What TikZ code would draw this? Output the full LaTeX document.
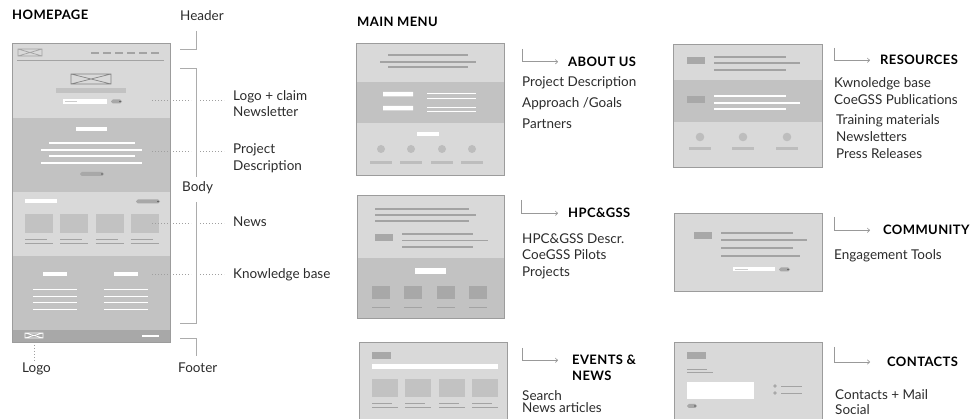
\documentclass[tikz,border=0pt]{standalone}
\usepackage{fontspec}
\setmainfont{Lato}
\usetikzlibrary{arrows.meta}

\definecolor{wfLight}{HTML}{D9D9D9}
\definecolor{wfMid}{HTML}{C2C2C2}
\definecolor{wfDark}{HTML}{A8A8A8}
\definecolor{wfEdge}{HTML}{9C9C9C}
\definecolor{wfLine}{HTML}{A3A3A3}
\definecolor{wfDot}{HTML}{BDBDBD}
\definecolor{ink}{HTML}{2B2B2B}

\tikzset{
  lbl/.style={anchor=base west,inner sep=0pt,text=ink,font=\fontsize{13.5}{16}\selectfont},
  ttl/.style={lbl,text=black,font=\fontsize{13}{15}\selectfont\bfseries\addfontfeatures{LetterSpace=3}},
  frame/.style={draw=wfEdge,line width=.9pt},
  wl/.style={draw=white,line width=1.3pt},
  gl/.style={draw=wfLine,line width=1.1pt},
  lead/.style={draw=gray!75,dash pattern=on .8pt off 2.2pt,line width=.7pt},
  brkt/.style={draw=gray!65,line width=.7pt},
  menuarrow/.style={draw=gray!80,line width=.6pt,-{To[length=3pt,width=5pt]}},
  pill/.style={fill=wfDark,rounded corners=1.8pt},
}

\begin{document}
\begin{tikzpicture}[x=1pt,y=-1pt]
  \useasboundingbox (0,0) rectangle (975,419);

  % homepage wireframe
  \fill[wfLight] (12,43) rectangle (170,118);
  \fill[wfMid] (12,118) rectangle (170,192);
  \fill[wfLight] (12,192) rectangle (170,256);
  \fill[wfMid] (12,256) rectangle (170,330);
  \fill[wfDark] (12,330) rectangle (170,342);
  \draw[frame] (12,43) rectangle (170,342);
  \foreach \a/\b/\c/\d/\col in {18/49/42/56/wfLine,71/74/111/84/wfLine!80!black,25/333/43/338/white}
    \draw[\col,line width=.7pt] (\a,\b) rectangle (\c,\d) (\a,\b) -- (\c,\d) (\a,\d) -- (\c,\b);
  \foreach \x in {91,103,...,151}
    \draw[gl] (\x,53) -- ++(8,0);
  \draw[wfLine,line width=.8pt] (17,60) -- (164,60);
  \fill[wfMid] (56,88) rectangle (126,93);
  \fill[white] (63,99) rectangle (107,104);
  \draw[gray!40,line width=.5pt] (65,101.5) -- (77,101.5);
  \fill[white] (76,127) rectangle (107,131.5);
  \draw[wl] (49,143) -- (135,143) (41,150) -- (142,150) (49,156) -- (135,156) (41,163) -- (142,163);
  \fill[white] (25,199) rectangle (57,203.5);
  \foreach \x in {25,60,95.5,130.5}{
    \fill[wfMid] (\x,214) rectangle ++(28,19);
    \draw[gl,line width=.8pt] (\x,239) -- ++(22,0) (\x,243) -- ++(28,0);
  }
  \foreach \x in {43,114}
    \fill[white] (\x,272) rectangle ++(24,4);
  \foreach \x in {33,104}
    \foreach \y in {290,297,303,310}
      \draw[wl,line width=1pt] (\x,\y) -- ++(44,0);
  \fill[white] (142,335) rectangle (159,337.5);

  % about us
  \fill[wfLight] (356,43) rectangle (504,82);
  \fill[wfMid] (356,82) rectangle (504,123);
  \fill[wfLight] (356,123) rectangle (504,175);
  \draw[frame] (356,43) rectangle (504,175);
  \draw[gl] (388,55) -- (468,55) (380,62) -- (476,62) (388,67) -- (468,67);
  \fill[white] (383,92) rectangle (413,96.5) (383,106) rectangle (413,110.5);
  \draw[wl,line width=.9pt] (427,93) -- (476,93) (427,98) -- (476,98) (427,107) -- (476,107) (427,111) -- (476,111);
  \fill[white] (417,132) rectangle (439,136);
  \foreach \x in {381,411,442,472}{
    \fill[wfDot] (\x,149) circle (4);
    \fill[wfDot] (\x-11,161) rectangle ++(22,3.5);
  }

  % hpc & gss
  \fill[wfLight] (357,195) rectangle (504,258);
  \fill[wfMid] (357,258) rectangle (504,318);
  \draw[frame] (357,195) rectangle (504,318);
  \draw[gl] (375,209) -- (469,209) (375,215) -- (476,215) (375,221) -- (469,221);
  \fill[wfDark] (375,234) rectangle (393,241);
  \draw[gl] (402,234) -- (473,234) (402,240.5) -- (488,240.5) (402,247) -- (473,247);
  \fill[white] (415,268) rectangle (446,274);
  \foreach \x in {372,404,437,469}{
    \fill[wfDark] (\x,286) rectangle ++(18,13);
    \draw[gl,line width=.8pt] (\x,307) -- ++(18,0);
  }

  % events & news
  \fill[wfLight] (359,342) rectangle (507,425);
  \draw[frame] (359,342) rectangle (507,425);
  \fill[wfDark] (372,352) rectangle (391,359);
  \fill[white] (372,364) rectangle (498,369);
  \foreach \x in {372,405,439,472}{
    \fill[wfMid] (\x,379) rectangle ++(26,18);
    \draw[gl,line width=.8pt] (\x,403) -- ++(20,0) (\x,407) -- ++(26,0);
  }

  % resources
  \fill[wfLight] (673,44) rectangle (822,80);
  \fill[wfMid] (673,80) rectangle (822,122);
  \fill[wfLight] (673,122) rectangle (822,167);
  \draw[frame] (673,44) rectangle (822,167);
  \fill[wfDark] (687,57) rectangle (705,64);
  \draw[gl] (714,57) -- (786,57) (714,63) -- (800,63) (714,70) -- (786,70);
  \fill[wfDark] (687,96) rectangle (705,103);
  \draw[wl] (714,96) -- (786,96) (714,103) -- (800,103) (714,109) -- (786,109);
  \foreach \x in {700,743,787}{
    \fill[wfDot] (\x,137) circle (4.3);
    \fill[wfDot] (\x-11,147) rectangle ++(22,3.5);
  }

  % community
  \fill[wfLight] (674,213) rectangle (822,291);
  \draw[frame] (674,213) rectangle (822,291);
  \fill[wfDark] (694,232) rectangle (712,239);
  \draw[gl] (721,233) -- (793,233) (721,240) -- (807,240) (721,248) -- (793,248) (721,256) -- (800,256);
  \fill[white] (733,267) rectangle (775,271.5);
  \draw[gray!40,line width=.5pt] (735,269.2) -- (748,269.2);

  % contacts
  \fill[wfLight] (674,342) rectangle (822,425);
  \draw[frame] (674,342) rectangle (822,425);
  \fill[wfDark] (687,352) rectangle (706,359);
  \draw[gl,line width=.8pt] (687,369) -- (707,369) (687,372.5) -- (713,372.5);
  \fill[white] (687,382) rectangle (754,399);
  \fill[wfDark] (775,386) circle (1.8) (775,393) circle (1.8);
  \draw[gl,line width=.8pt] (781,386) -- (802,386) (781,393) -- (802,393);

  % pills with a dot
  \foreach \x/\y/\w in {111/101.5/11,80/174/24,136/201.5/24,779/269.5/11,687/406/10}{
    \fill[pill] (\x,\y-2) rectangle ++(\w,4);
    \fill[black!65] (\x+\w-2,\y) circle (.9);
  }

  % homepage labels
  \node[ttl] (tHome) at (12,19.5) {HOMEPAGE};
  \node[lbl] (lHeader) at (180,20.7) {Header};
  \node[lbl] (lLogoClaim) at (233,100.5) {Logo + claim};
  \node[lbl] (lNewsletter) at (233,117) {Newsletter};
  \node[lbl] (lProject) at (233,154) {Project};
  \node[lbl] (lDescr) at (233,170.5) {Description};
  \node[lbl] (lBody) at (182,191.5) {Body};
  \node[lbl] (lNews) at (233,227) {News};
  \node[lbl] (lKnow) at (233,278.5) {Knowledge base};
  \node[lbl] (lLogo) at (22,373) {Logo};
  \node[lbl] (lFooter) at (178,373) {Footer};

  \coordinate (hpA) at (152,100);
  \coordinate (hpB) at (152,151);
  \coordinate (hpC) at (152,223);
  \coordinate (hpD) at (152,274);
  \foreach \from/\to in {hpA/lLogoClaim,hpB/lProject,hpC/lNews,hpD/lKnow}{
    \draw[lead] (\from) -- ++(39,0);
    \draw[lead,shorten >=9pt] ([xshift=48pt]\from) -- (\from -| \to.west);
  }

  \coordinate (hdA) at (196,31);
  \coordinate (hdB) at (180,49);
  \coordinate (bdA) at (180,68);
  \coordinate (bdB) at (196,177);
  \coordinate (bdC) at (196,202);
  \coordinate (bdD) at (180,323);
  \coordinate (ftA) at (180,338);
  \coordinate (ftB) at (196,356);
  \coordinate (lgA) at (34,345);
  \draw[brkt] (hdA) |- (hdB);
  \draw[brkt] (bdA) -| (bdB);
  \draw[brkt] (bdC) |- (bdD);
  \draw[brkt] (ftA) -| (ftB);
  \draw[lead,shorten >=3pt] (lgA) -- (lgA |- lLogo.north);

  % main menu
  \node[ttl] (tMenu) at (357,26.5) {MAIN MENU};

  \node[ttl] (tAbout) at (568,66.5) {ABOUT US};
  \node[lbl] (iAbout1) at (522,86.5) {Project Description};
  \node[lbl] (iAbout2) at (522,107.7) {Approach /Goals};
  \node[lbl] (iAbout3) at (522,129) {Partners};

  \node[ttl] (tHpc) at (568,218) {HPC\&GSS};
  \node[lbl] (iHpc1) at (522,244) {HPC\&GSS Descr.};
  \node[lbl] (iHpc2) at (522,260) {CoeGSS Pilots};
  \node[lbl] (iHpc3) at (522,276.5) {Projects};

  \node[ttl] (tEvents) at (572,365) {EVENTS \&};
  \node[ttl] (tEvents2) at (572,381) {NEWS};
  \node[lbl] (iEvents1) at (522,400.5) {Search};
  \node[lbl] (iEvents2) at (522,413) {News articles};

  \node[ttl] (tRes) at (880,65) {RESOURCES};
  \node[lbl] (iRes1) at (834,87.3) {Kwnoledge base};
  \node[lbl] (iRes2) at (834,104.3) {CoeGSS Publications};
  \node[lbl] (iRes3) at (836,124.3) {Training materials};
  \node[lbl] (iRes4) at (836,141.7) {Newsletters};
  \node[lbl] (iRes5) at (836,159) {Press Releases};

  \node[ttl] (tComm) at (883,235) {COMMUNITY};
  \node[lbl] (iComm1) at (834,260) {Engagement Tools};

  \node[ttl] (tCont) at (887,366.7) {CONTACTS};
  \node[lbl] (iCont1) at (835,400) {Contacts + Mail};
  \node[lbl] (iCont2) at (835,415) {Social};

  \coordinate (aAbout) at (522,49);
  \coordinate (aHpc) at (521,200);
  \coordinate (aEvents) at (522,348);
  \coordinate (aRes) at (834,48);
  \coordinate (aComm) at (834,217);
  \coordinate (aCont) at (834,347);
  \foreach \from/\to/\gap in {aAbout/tAbout/10,aHpc/tHpc/10,aEvents/tEvents/14,aRes/tRes/10,aComm/tComm/13,aCont/tCont/17}
    \draw[menuarrow,shorten >=\gap pt] (\from) |- (\to.west);

\end{tikzpicture}
\end{document}
